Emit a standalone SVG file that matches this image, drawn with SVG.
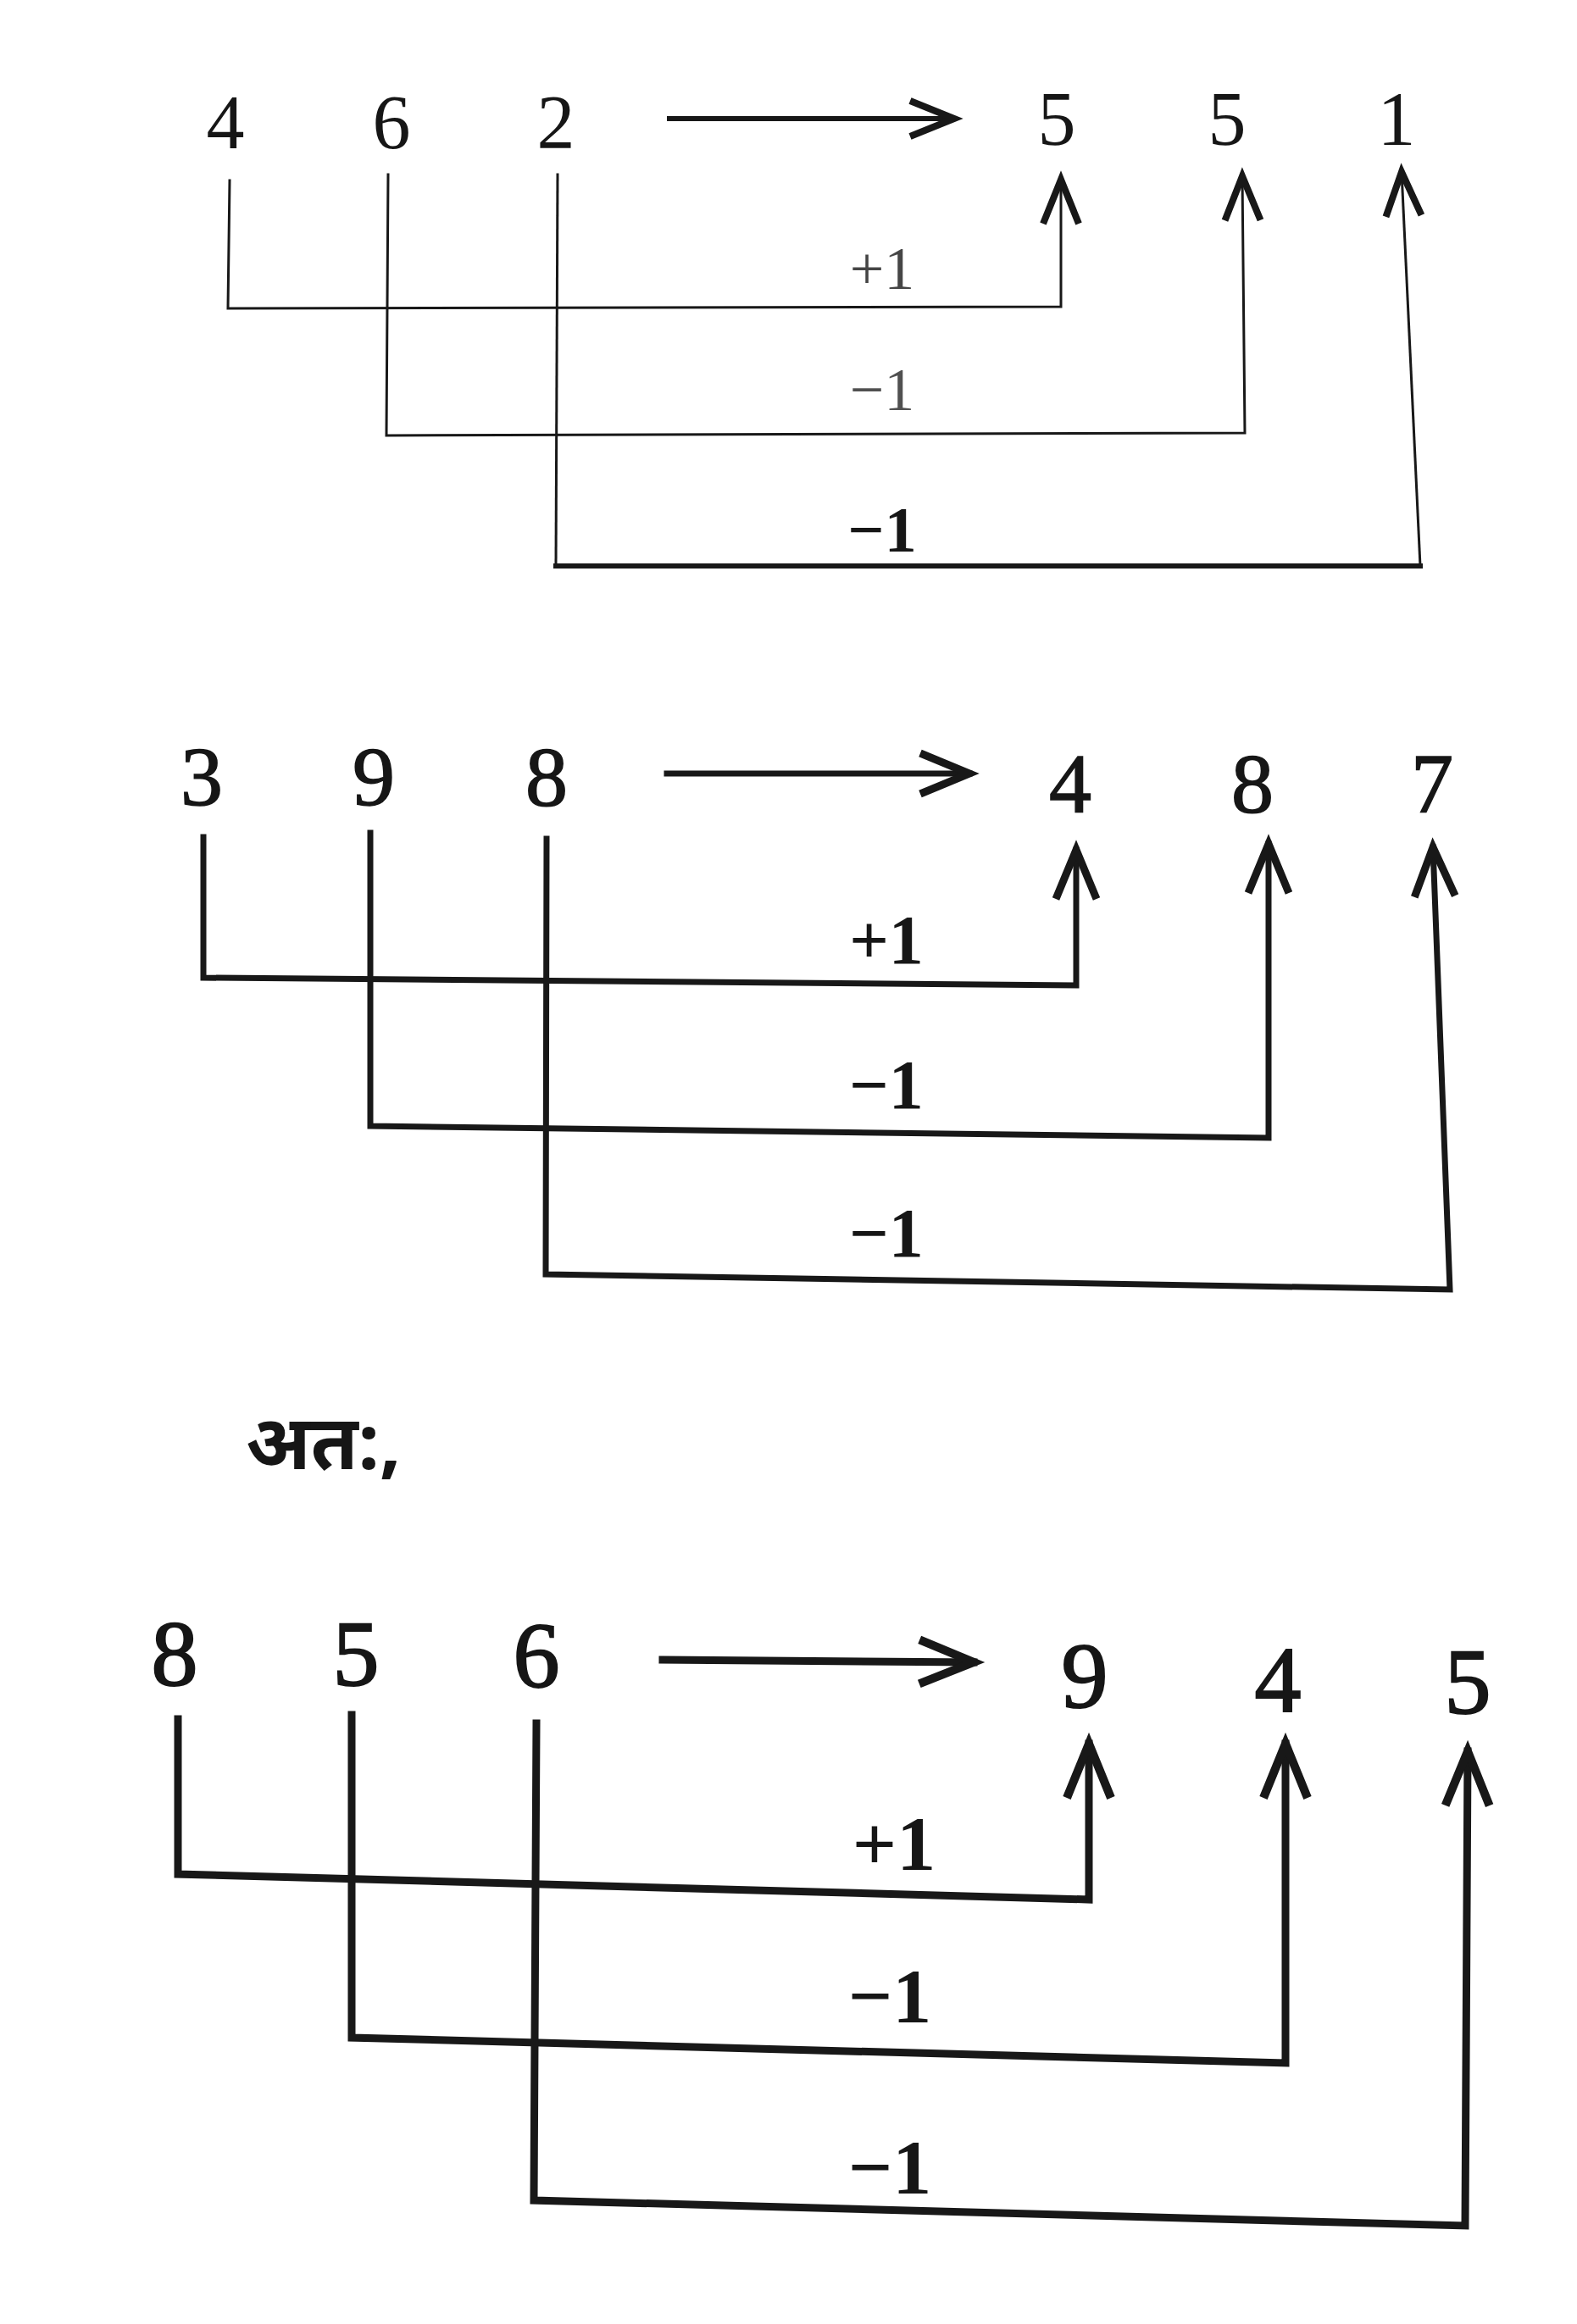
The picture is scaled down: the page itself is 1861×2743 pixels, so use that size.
<svg xmlns="http://www.w3.org/2000/svg" width="1861" height="2743" viewBox="0 0 1861 2743">
<style>
.d{font-family:"Liberation Serif","DejaVu Serif",serif;fill:#161616;text-anchor:middle}
.p1{font-size:90px}
.p2{font-size:100px;stroke:#161616;stroke-width:1.5px}
.p3{font-size:110px;stroke:#161616;stroke-width:2px}
.lb{font-family:"Liberation Serif","DejaVu Serif",serif;fill:#161616;text-anchor:middle}
.c{fill:none;stroke:#181818;stroke-linejoin:miter;stroke-linecap:square}
.w1{stroke-width:3}
.w1b{stroke-width:6}
.w2{stroke-width:7}
.w3{stroke-width:9}
</style>
<defs>
<marker id="a1" markerUnits="userSpaceOnUse" orient="auto" overflow="visible" markerWidth="1" markerHeight="1" refX="0" refY="0"><path d="M-52,-21 L0,0 L-52,21" fill="none" stroke="#181818" stroke-width="8"/></marker>
<marker id="a2" markerUnits="userSpaceOnUse" orient="auto" overflow="visible" markerWidth="1" markerHeight="1" refX="0" refY="0"><path d="M-58,-24 L0,0 L-58,24" fill="none" stroke="#181818" stroke-width="9"/></marker>
<marker id="a3" markerUnits="userSpaceOnUse" orient="auto" overflow="visible" markerWidth="1" markerHeight="1" refX="0" refY="0"><path d="M-64,-26 L0,0 L-64,26" fill="none" stroke="#181818" stroke-width="10"/></marker>
</defs>
<rect width="1861" height="2743" fill="#ffffff"/>

<!-- Panel 1 nodes -->
<g id="p1-in-4"><text class="d p1" x="266" y="175">4</text></g>
<g id="p1-in-6"><text class="d p1" x="462" y="175">6</text></g>
<g id="p1-in-2"><text class="d p1" x="656" y="175">2</text></g>
<g id="p1-out-5a"><text class="d p1" x="1247" y="171">5</text></g>
<g id="p1-out-5b"><text class="d p1" x="1448" y="171">5</text></g>
<g id="p1-out-1"><text class="d p1" x="1648" y="171">1</text></g>

<!-- Panel 2 nodes -->
<g id="p2-in-3"><text class="d p2" x="238" y="950">3</text></g>
<g id="p2-in-9"><text class="d p2" x="441" y="950">9</text></g>
<g id="p2-in-8"><text class="d p2" x="645" y="950">8</text></g>
<g id="p2-out-4"><text class="d p2" x="1263" y="958">4</text></g>
<g id="p2-out-8"><text class="d p2" x="1478" y="958">8</text></g>
<g id="p2-out-7"><text class="d p2" x="1690" y="958">7</text></g>

<g id="ataha"><text x="290" y="1734" font-family="'Noto Sans','DejaVu Sans',sans-serif" font-size="90" font-weight="bold" fill="#161616">अत:,</text></g>

<!-- Panel 3 nodes -->
<g id="p3-in-8"><text class="d p3" x="206" y="1989">8</text></g>
<g id="p3-in-5"><text class="d p3" x="420" y="1989">5</text></g>
<g id="p3-in-6"><text class="d p3" x="633" y="1991">6</text></g>
<g id="p3-out-9"><text class="d p3" x="1280" y="2015">9</text></g>
<g id="p3-out-4"><text class="d p3" x="1508" y="2020">4</text></g>
<g id="p3-out-5"><text class="d p3" x="1732" y="2022">5</text></g>

<g id="connectors">
<!-- Panel 1 -->
<path class="c w1b" d="M790,140 L1126,140" marker-end="url(#a1)"/>
<path class="c w1" d="M271,213 L269,364 L1252,362 L1252,212" marker-end="url(#a1)"/>
<path class="c w1" d="M458,206 L456,514 L1469,511 L1466,208" marker-end="url(#a1)"/>
<path class="c w1" d="M658,206 L656,668"/>
<path class="c w1b" d="M656,668 L1676,668"/>
<path class="c w1" d="M1676,668 L1654,203" marker-end="url(#a1)"/>
<text class="lb" x="1041" y="341" font-size="72" fill-opacity="0.8">+1</text>
<text class="lb" x="1041" y="484" font-size="72" fill-opacity="0.75">−1</text>
<text class="lb" x="1041" y="651" font-size="76" font-weight="bold">−1</text>

<!-- Panel 2 -->
<path class="c w2" d="M787,913 L1144,913" marker-end="url(#a2)"/>
<path class="c w2" d="M240,988 L240,1154 L1270,1163 L1270,1003" marker-end="url(#a2)"/>
<path class="c w2" d="M437,983 L437,1329 L1497,1343 L1497,996" marker-end="url(#a2)"/>
<path class="c w2" d="M645,990 L644,1504 L1711,1522 L1691,1000" marker-end="url(#a2)"/>
<text class="lb" x="1046" y="1137" font-size="82" font-weight="bold">+1</text>
<text class="lb" x="1046" y="1308" font-size="82" font-weight="bold">−1</text>
<text class="lb" x="1046" y="1483" font-size="82" font-weight="bold">−1</text>

<!-- Panel 3 -->
<path class="c w3" d="M782,1959 L1149,1962" marker-end="url(#a3)"/>
<path class="c w3" d="M210,2029 L210,2212 L1285,2242 L1285,2058" marker-end="url(#a3)"/>
<path class="c w3" d="M415,2024 L415,2405 L1517,2435 L1517,2058" marker-end="url(#a3)"/>
<path class="c w3" d="M633,2034 L630,2597 L1729,2627 L1732,2067" marker-end="url(#a3)"/>
<text class="lb" x="1055" y="2207" font-size="92" font-weight="bold">+1</text>
<text class="lb" x="1050" y="2387" font-size="92" font-weight="bold">−1</text>
<text class="lb" x="1050" y="2589" font-size="92" font-weight="bold">−1</text>
</g>
</svg>
